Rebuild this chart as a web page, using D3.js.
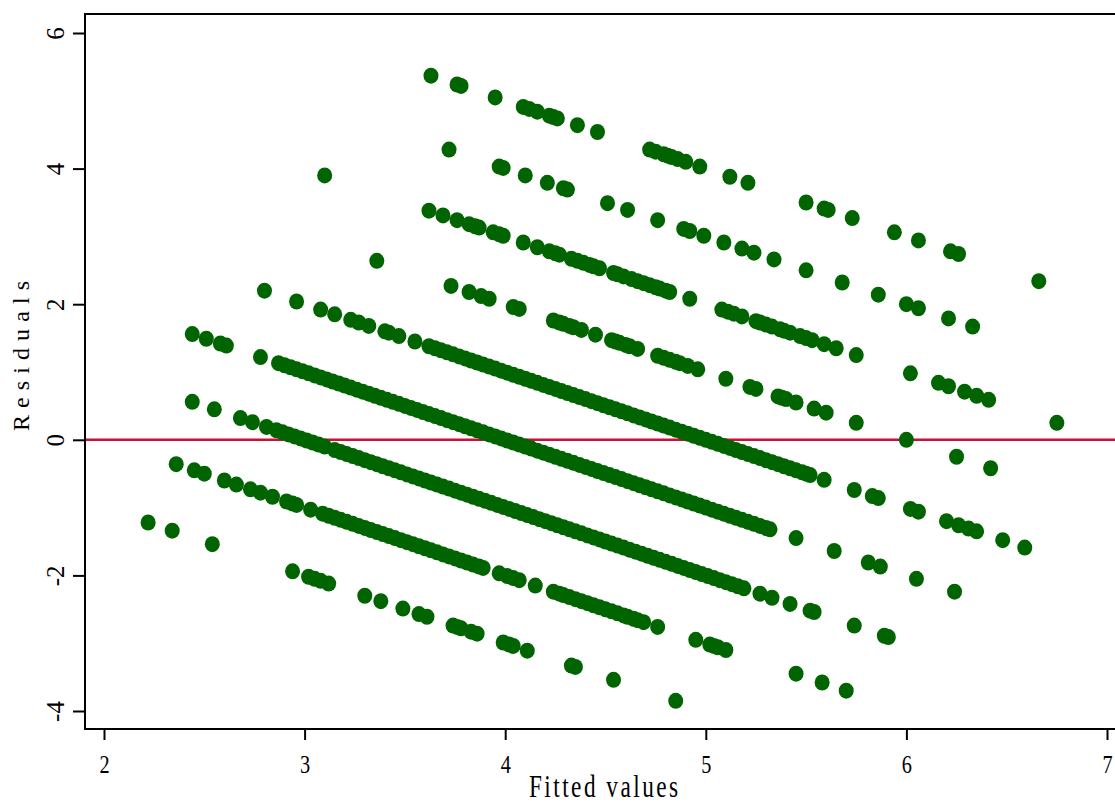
<!DOCTYPE html>
<html>
<head>
<meta charset="utf-8">
<script src="https://cdn.jsdelivr.net/npm/d3@7"></script>
<style>
  html, body { margin: 0; padding: 0; background: #fff; }
  svg { display: block; }
  text { font-family: "Liberation Serif", "DejaVu Serif", serif; fill: #000; }
</style>
</head>
<body>
<div id="chart"></div>
<script>
const observed = [1, 2, 3, 4, 5, 6, 7, 8, 9];

const fitted1 = [2.22, 2.34, 2.54, 2.94, 3.02, 3.05, 3.08, 3.12, 3.30, 3.38, 3.49, 3.57, 3.61,
  3.74, 3.76, 3.78, 3.83, 3.86, 3.99, 4.02, 4.04, 4.11, 4.33, 4.35, 4.54, 4.85];

const fitted2 = [2.36, 2.45, 2.50, 2.60, 2.66, 2.73, 2.78, 2.84, 2.91, 2.94, 2.96, 3.03,
  3.09, 3.12, 3.15, 3.18, 3.21, 3.24, 3.27, 3.30, 3.33, 3.36, 3.39, 3.42, 3.45, 3.48, 3.51,
  3.54, 3.57, 3.60, 3.63, 3.66, 3.69, 3.72, 3.75, 3.78, 3.81, 3.84, 3.87, 3.89,
  3.97, 4.01, 4.04, 4.07, 4.15, 4.24, 4.27, 4.29, 4.32, 4.35, 4.38, 4.41, 4.44, 4.47, 4.50,
  4.53, 4.56, 4.59, 4.61, 4.64, 4.66, 4.69, 4.76, 4.95, 5.02, 5.04, 5.06, 5.10, 5.45, 5.58, 5.70];

const fitted3 = [2.44, 2.55, 2.68, 2.74, 2.81,
  2.86, 2.89, 2.92, 2.95, 2.98, 3.01, 3.04, 3.07, 3.10, 3.15, 3.18, 3.21, 3.24, 3.27, 3.30,
  3.33, 3.36, 3.39, 3.42, 3.45, 3.48, 3.51, 3.54, 3.57, 3.60, 3.63, 3.66, 3.69, 3.72, 3.75,
  3.78, 3.81, 3.84, 3.87, 3.90, 3.93, 3.96, 3.99, 4.02, 4.05, 4.08, 4.11, 4.14, 4.17, 4.20,
  4.23, 4.26, 4.29, 4.32, 4.35, 4.38, 4.41, 4.44, 4.47, 4.50, 4.53, 4.56, 4.59, 4.62, 4.65,
  4.68, 4.71, 4.74, 4.77, 4.80, 4.83, 4.86, 4.89, 4.92, 4.95, 4.98, 5.01, 5.04, 5.07, 5.10,
  5.13, 5.16, 5.19, 5.27, 5.33, 5.42, 5.52, 5.54, 5.74, 5.89, 5.91];

const fitted4 = [2.44, 2.51, 2.58, 2.61, 2.78,
  2.87, 2.90, 2.93, 2.96, 2.99, 3.02, 3.05, 3.08, 3.11, 3.14, 3.17, 3.20, 3.23, 3.26, 3.29,
  3.32, 3.35, 3.38, 3.41, 3.44, 3.47, 3.50, 3.53, 3.56, 3.59, 3.62, 3.65, 3.68, 3.71, 3.74,
  3.77, 3.80, 3.83, 3.86, 3.89, 3.92, 3.95, 3.98, 4.01, 4.04, 4.07, 4.10, 4.13, 4.16, 4.19,
  4.22, 4.25, 4.28, 4.31, 4.34, 4.37, 4.40, 4.43, 4.46, 4.49, 4.52, 4.55, 4.58, 4.61, 4.64,
  4.67, 4.70, 4.73, 4.76, 4.79, 4.82, 4.85, 4.88, 4.91, 4.94, 4.97, 5.00, 5.03, 5.06, 5.09,
  5.12, 5.15, 5.18, 5.21, 5.24, 5.27, 5.30, 5.32, 5.45, 5.64, 5.81, 5.87, 6.05, 6.24];

const fitted5 = [2.80, 2.96, 3.08, 3.15, 3.23, 3.27, 3.32, 3.40, 3.42, 3.47, 3.55,
  3.62, 3.65, 3.68, 3.71, 3.74, 3.77, 3.80, 3.83, 3.86, 3.89, 3.92, 3.95, 3.98, 4.01, 4.04,
  4.07, 4.10, 4.13, 4.16, 4.19, 4.22, 4.25, 4.28, 4.31, 4.34, 4.37, 4.40, 4.43, 4.46, 4.49,
  4.52, 4.55, 4.58, 4.61, 4.64, 4.67, 4.70, 4.73, 4.76, 4.79, 4.82, 4.85, 4.88, 4.91, 4.94,
  4.97, 5.00, 5.03, 5.06, 5.09, 5.12, 5.15, 5.18, 5.21, 5.24, 5.27, 5.30, 5.33, 5.36, 5.39,
  5.42, 5.45, 5.48, 5.50, 5.52, 5.59, 5.74, 5.83, 5.86, 6.02, 6.06, 6.20, 6.26, 6.31, 6.35,
  6.48, 6.59];

const fitted6 = [3.36, 3.73, 3.82, 3.88, 3.92, 4.04, 4.07, 4.24, 4.27, 4.29, 4.32, 4.34, 4.38,
  4.45, 4.53, 4.55, 4.57, 4.60, 4.62, 4.66, 4.76, 4.79, 4.82, 4.85, 4.87, 4.91, 4.96, 5.10,
  5.22, 5.25, 5.36, 5.38, 5.40, 5.45, 5.54, 5.60, 5.75, 6.00, 6.25, 6.42];

const fitted7 = [3.10, 3.62, 3.69, 3.76, 3.82, 3.85, 3.87, 3.94, 3.97, 3.99, 4.09, 4.16, 4.22,
  4.25, 4.27, 4.33, 4.36, 4.39, 4.42, 4.44, 4.47, 4.54, 4.56, 4.59, 4.63, 4.66, 4.69, 4.72,
  4.75, 4.77, 4.80, 4.82, 4.92, 5.08, 5.11, 5.14, 5.18, 5.25, 5.27, 5.30, 5.33, 5.37, 5.39,
  5.42, 5.47, 5.50, 5.53, 5.59, 5.65, 5.75, 6.02, 6.16, 6.21, 6.29, 6.35, 6.41, 6.75];

const fitted8 = [3.72, 3.97, 3.99, 4.10, 4.21, 4.29, 4.31, 4.51, 4.61, 4.76, 4.89, 4.92, 4.99,
  5.09, 5.18, 5.24, 5.34, 5.50, 5.68, 5.86, 6.00, 6.06, 6.21, 6.33];

const fitted9 = [3.63, 3.76, 3.78, 3.95, 4.09, 4.12, 4.16, 4.22, 4.24, 4.26, 4.36, 4.46, 4.72,
  4.75, 4.79, 4.81, 4.83, 4.86, 4.90, 4.97, 5.12, 5.21, 5.50, 5.59, 5.61, 5.73, 5.94, 6.06,
  6.22, 6.26, 6.66];

const xTicks = [2, 3, 4, 5, 6, 7];
const yTicks = [-4, -2, 0, 2, 4, 6];

const fittedByLevel = [fitted1, fitted2, fitted3, fitted4, fitted5, fitted6, fitted7, fitted8, fitted9];

// residual = observed - fitted
const points = [];
observed.forEach((obs, i) => {
  fittedByLevel[i].forEach(f => points.push({ fitted: f, resid: obs - f }));
});

const width = 1115, height = 804;
const frame = { left: 85, top: 14, right: 1125, bottom: 729 };

const svg = d3.select("#chart").append("svg")
  .attr("width", width)
  .attr("height", height);

const x = d3.scaleLinear().domain([2, 7]).range([104, 1107]);
const y = d3.scaleLinear().domain([-4, 6]).range([711, 33]);

// zero line
svg.append("line")
  .attr("x1", frame.left).attr("x2", frame.right)
  .attr("y1", y(0)).attr("y2", y(0))
  .attr("stroke", "#c8103c")
  .attr("stroke-width", 2.5);

// points
svg.append("g")
  .selectAll("ellipse")
  .data(points)
  .enter()
  .append("ellipse")
  .attr("cx", d => x(d.fitted))
  .attr("cy", d => y(d.resid))
  .attr("rx", 7.5)
  .attr("ry", 8)
  .attr("fill", "#006400");

// frame
svg.append("rect")
  .attr("x", frame.left).attr("y", frame.top)
  .attr("width", frame.right - frame.left)
  .attr("height", frame.bottom - frame.top)
  .attr("fill", "none")
  .attr("stroke", "#000")
  .attr("stroke-width", 2);

// x axis
const xAxis = svg.append("g")
  .attr("transform", `translate(0, ${frame.bottom})`)
  .call(d3.axisBottom(x).tickValues(xTicks).tickSize(11).tickFormat(d3.format("d")));
xAxis.select(".domain").remove();
xAxis.selectAll(".tick line").attr("stroke", "#000").attr("stroke-width", 2);
xAxis.selectAll(".tick text")
  .attr("y", 44)
  .attr("dy", 0)
  .attr("transform", "scale(0.78,1)")
  .style("font-size", "26px")
  .style("font-family", "'Liberation Serif', serif");

// y axis
const yAxis = svg.append("g")
  .attr("transform", `translate(${frame.left}, 0)`)
  .call(d3.axisLeft(y).tickValues(yTicks).tickSize(12).tickFormat(d3.format("d")));
yAxis.select(".domain").remove();
yAxis.selectAll(".tick line").attr("stroke", "#000").attr("stroke-width", 2);
yAxis.selectAll(".tick text")
  .attr("x", 0)
  .attr("dy", 0)
  .attr("text-anchor", "middle")
  .attr("transform", "translate(-21,0) rotate(-90)")
  .text(d => d < 0 ? "-" + Math.abs(d) : d)
  .style("font-size", "25px")
  .style("font-family", "'Liberation Serif', serif");

// axis titles
svg.append("text")
  .attr("transform", "translate(603.5, 797) scale(0.75,1)")
  .attr("text-anchor", "middle")
  .attr("textLength", 199)
  .attr("lengthAdjust", "spacing")
  .style("font-size", "31px")
  .text("Fitted values");

svg.append("text")
  .attr("transform", "translate(29, 356) rotate(-90)")
  .attr("text-anchor", "middle")
  .attr("textLength", 150)
  .attr("lengthAdjust", "spacing")
  .style("font-size", "24px")
  .text("Residuals");
</script>
</body>
</html>
